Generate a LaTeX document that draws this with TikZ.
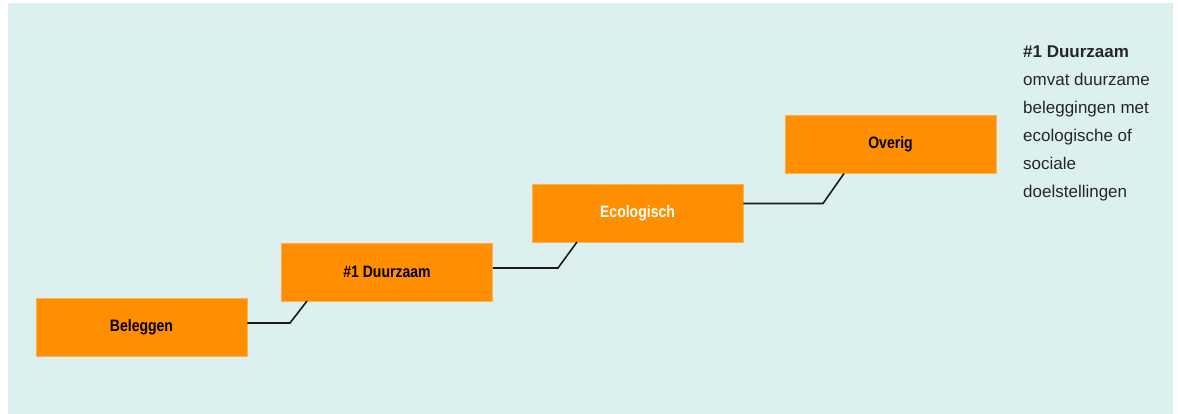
\documentclass[tikz,border=0pt]{standalone}
\usepackage{fontspec}
\setmainfont{Liberation Sans}
\newfontfamily\boxfont[FakeStretch=0.85]{Liberation Sans}
\definecolor{bgteal}{RGB}{220,241,239}
\definecolor{stepor}{RGB}{255,143,0}
\tikzset{
  stepbox/.style={fill=stepor, draw=stepor!70!white, line width=0.6pt, minimum width=211pt, minimum height=58pt, inner sep=0pt, font=\boxfont\bfseries\fontsize{16.5}{18}\selectfont, text=black},
  link/.style={draw=black!90, line width=1.6pt}
}
\begin{document}
\begin{tikzpicture}[x=1pt,y=-1pt]
\useasboundingbox (0,0) rectangle (1178,414);
\fill[bgteal] (8,3) rectangle (1173,414);
\node[stepbox] (beleggen) at (141.5,327.5) {Beleggen};
\node[stepbox] (duurzaam) at (387,272) {\#1 Duurzaam};
\node[stepbox, text=white] (ecologisch) at (637.5,213) {Ecologisch};
\node[stepbox] (overig) at (890.5,144.5) {Overig};
\coordinate (k1) at (290,323);
\coordinate (k2) at (558,268);
\coordinate (k3) at (823,203.5);
\draw[link] (beleggen.east |- k1) -- (k1) -- (307,301) coordinate (e1);
\draw[link] (duurzaam.east |- k2) -- (k2) -- (577,242) coordinate (e2);
\draw[link] (ecologisch.east |- k3) -- (k3) -- (844,173.5) coordinate (e3);
\node[anchor=north west, inner sep=0pt, align=left, font=\fontsize{17}{28}\selectfont, text=black!85] (legend) at (1023,45.5)
  {\textbf{\#1 Duurzaam}\\omvat duurzame\\beleggingen met\\ecologische of\\sociale\\doelstellingen};
\end{tikzpicture}
\end{document}
